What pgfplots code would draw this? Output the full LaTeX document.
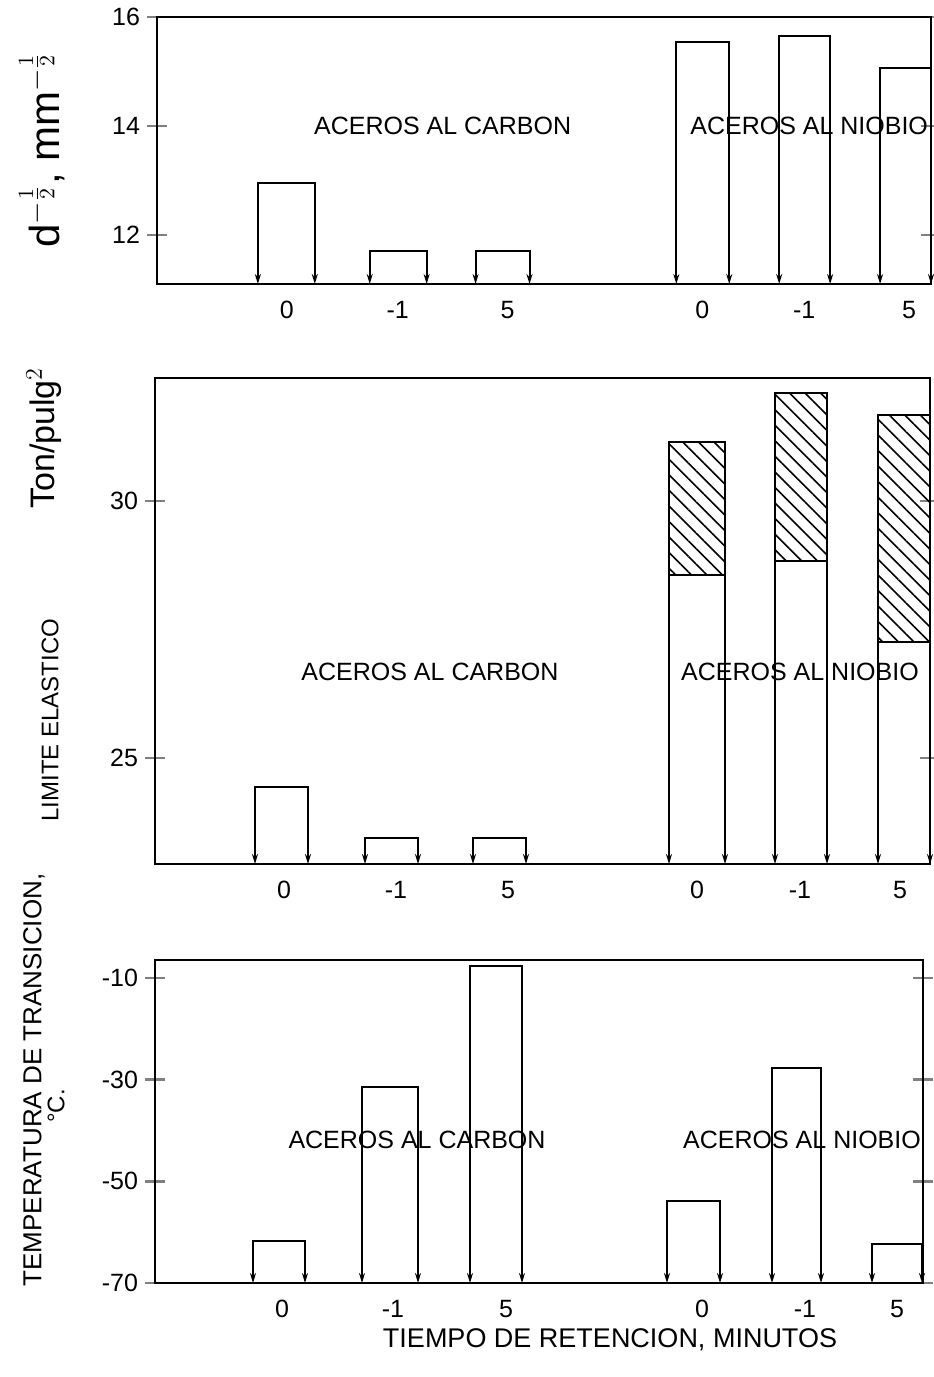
\documentclass[border=0pt]{standalone}
\usepackage{fontspec}
\setmainfont{Liberation Sans}
\usepackage{pgfplots}
\pgfplotsset{compat=1.18}
\usetikzlibrary{arrows.meta,patterns.meta}

% one bar drawn as an open frame, arrow tips at the foot of both legs
% #1 left x, #2 right x, #3 top value, #4 foot value (axis bottom)
\newcommand{\pbar}[4]{\addplot[black, line width=1pt, {Stealth[length=5pt,width=3pt]}-{Stealth[length=5pt,width=3pt]}]
  coordinates {(#1,#4) (#1,#3) (#2,#3) (#2,#4)};}
% hatched upper part of a niobium bar in the middle panel
\newcommand{\hatch}[4]{\addplot[black, line width=1pt,
  pattern={Lines[angle=-45,distance=5.5pt,line width=0.8pt]}]
  coordinates {(#1,#3) (#1,#4) (#2,#4) (#2,#3) (#1,#3)};}

\pgfplotsset{
  panel/.style={
    scale only axis, anchor=north west, clip=false,
    axis line style={line width=1.4pt},
    xtick style={draw=none},
    ytick style={line width=1.3pt},
    major tick length=10pt, tick align=center,
    ytick pos=both,
    xticklabels={0,-1,5,0,-1,5},
    tick label style={font=\fontsize{12.5}{14}\selectfont},
    /pgf/number format/assume math mode=true,
  },
}

\begin{document}
\begin{tikzpicture}
\useasboundingbox (0,0) rectangle (466.5pt,-688.5pt);

% ---- panel 1: grain size ----
\begin{axis}[panel, at={(78.5pt,-8.5pt)}, width=387pt, height=133.5pt,
  xmin=157, xmax=932, ymin=11.1, ymax=16,
  ytick={12,14,16}, xtick={287,398,508,703,805,910}]
\pbar{258}{315}{12.95}{11.1}
\pbar{370}{427}{11.7}{11.1}
\pbar{476}{530}{11.7}{11.1}
\pbar{677}{730}{15.55}{11.1}
\pbar{780}{831}{15.65}{11.1}
\pbar{881}{932}{15.07}{11.1}
\node[font=\fontsize{12.5}{14}\selectfont] at (axis cs:443,14.0) {ACEROS AL CARBON};
\node[font=\fontsize{12.5}{14}\selectfont] at (axis cs:810,14.0) {ACEROS AL NIOBIO};
\end{axis}

% ---- panel 2: yield strength ----
\begin{axis}[panel, at={(77.5pt,-189pt)}, width=387.5pt, height=243pt,
  xmin=155, xmax=930, ymin=22.94, ymax=32.39,
  ytick={25,30}, xtick={284,396,508,697,800,900}]
\pbar{255}{308}{24.44}{22.94}
\pbar{365}{418}{23.44}{22.94}
\pbar{473}{526}{23.44}{22.94}
\pbar{669}{725}{28.56}{22.94}
\pbar{775}{827}{28.83}{22.94}
\pbar{878}{930}{27.26}{22.94}
\hatch{669}{725}{28.56}{31.15}
\hatch{775}{827}{28.83}{32.10}
\hatch{878}{930}{27.26}{31.67}
\node[font=\fontsize{12.5}{14}\selectfont] at (axis cs:430,26.67) {ACEROS AL CARBON};
\node[font=\fontsize{12.5}{14}\selectfont] at (axis cs:800,26.67) {ACEROS AL NIOBIO};
\end{axis}

% ---- panel 3: transition temperature ----
\begin{axis}[panel, at={(77.5pt,-480pt)}, width=384pt, height=161.5pt,
  xmin=155, xmax=923, ymin=-70, ymax=-6.5,
  ytick={-70,-50,-30,-10}, xtick={282,393,506,702,805,897}]
\pbar{253}{305}{-61.8}{-70}
\pbar{362}{418}{-31.4}{-70}
\pbar{470}{522}{-7.6}{-70}
\pbar{667}{720}{-53.9}{-70}
\pbar{772}{821}{-27.8}{-70}
\pbar{872}{922}{-62.4}{-70}
\node[font=\fontsize{12.5}{14}\selectfont] at (axis cs:417,-41.9) {ACEROS AL CARBON};
\node[font=\fontsize{12.5}{14}\selectfont] at (axis cs:802,-41.9) {ACEROS AL NIOBIO};
\end{axis}

% ---- axis titles ----
\node[rotate=90, font=\fontsize{21}{24}\selectfont] at (21pt,-75pt) {d$^{-\frac{1}{2}}$, mm$^{-\frac{1}{2}}$};
\node[rotate=90, font=\fontsize{17}{19}\selectfont] at (22pt,-219pt) {Ton/pulg$^{2}$};
\node[rotate=90, font=\fontsize{12}{14}\selectfont] at (25pt,-360pt) {LIMITE ELASTICO};
\node[rotate=90, font=\fontsize{13}{15}\selectfont] at (17pt,-540pt) {TEMPERATURA DE TRANSICION,};
\node[rotate=90, font=\fontsize{12}{14}\selectfont] at (28pt,-553pt) {°C.};
\node[font=\fontsize{13.5}{15}\selectfont] at (305pt,-670pt) {TIEMPO DE RETENCION, MINUTOS};
\end{tikzpicture}
\end{document}
